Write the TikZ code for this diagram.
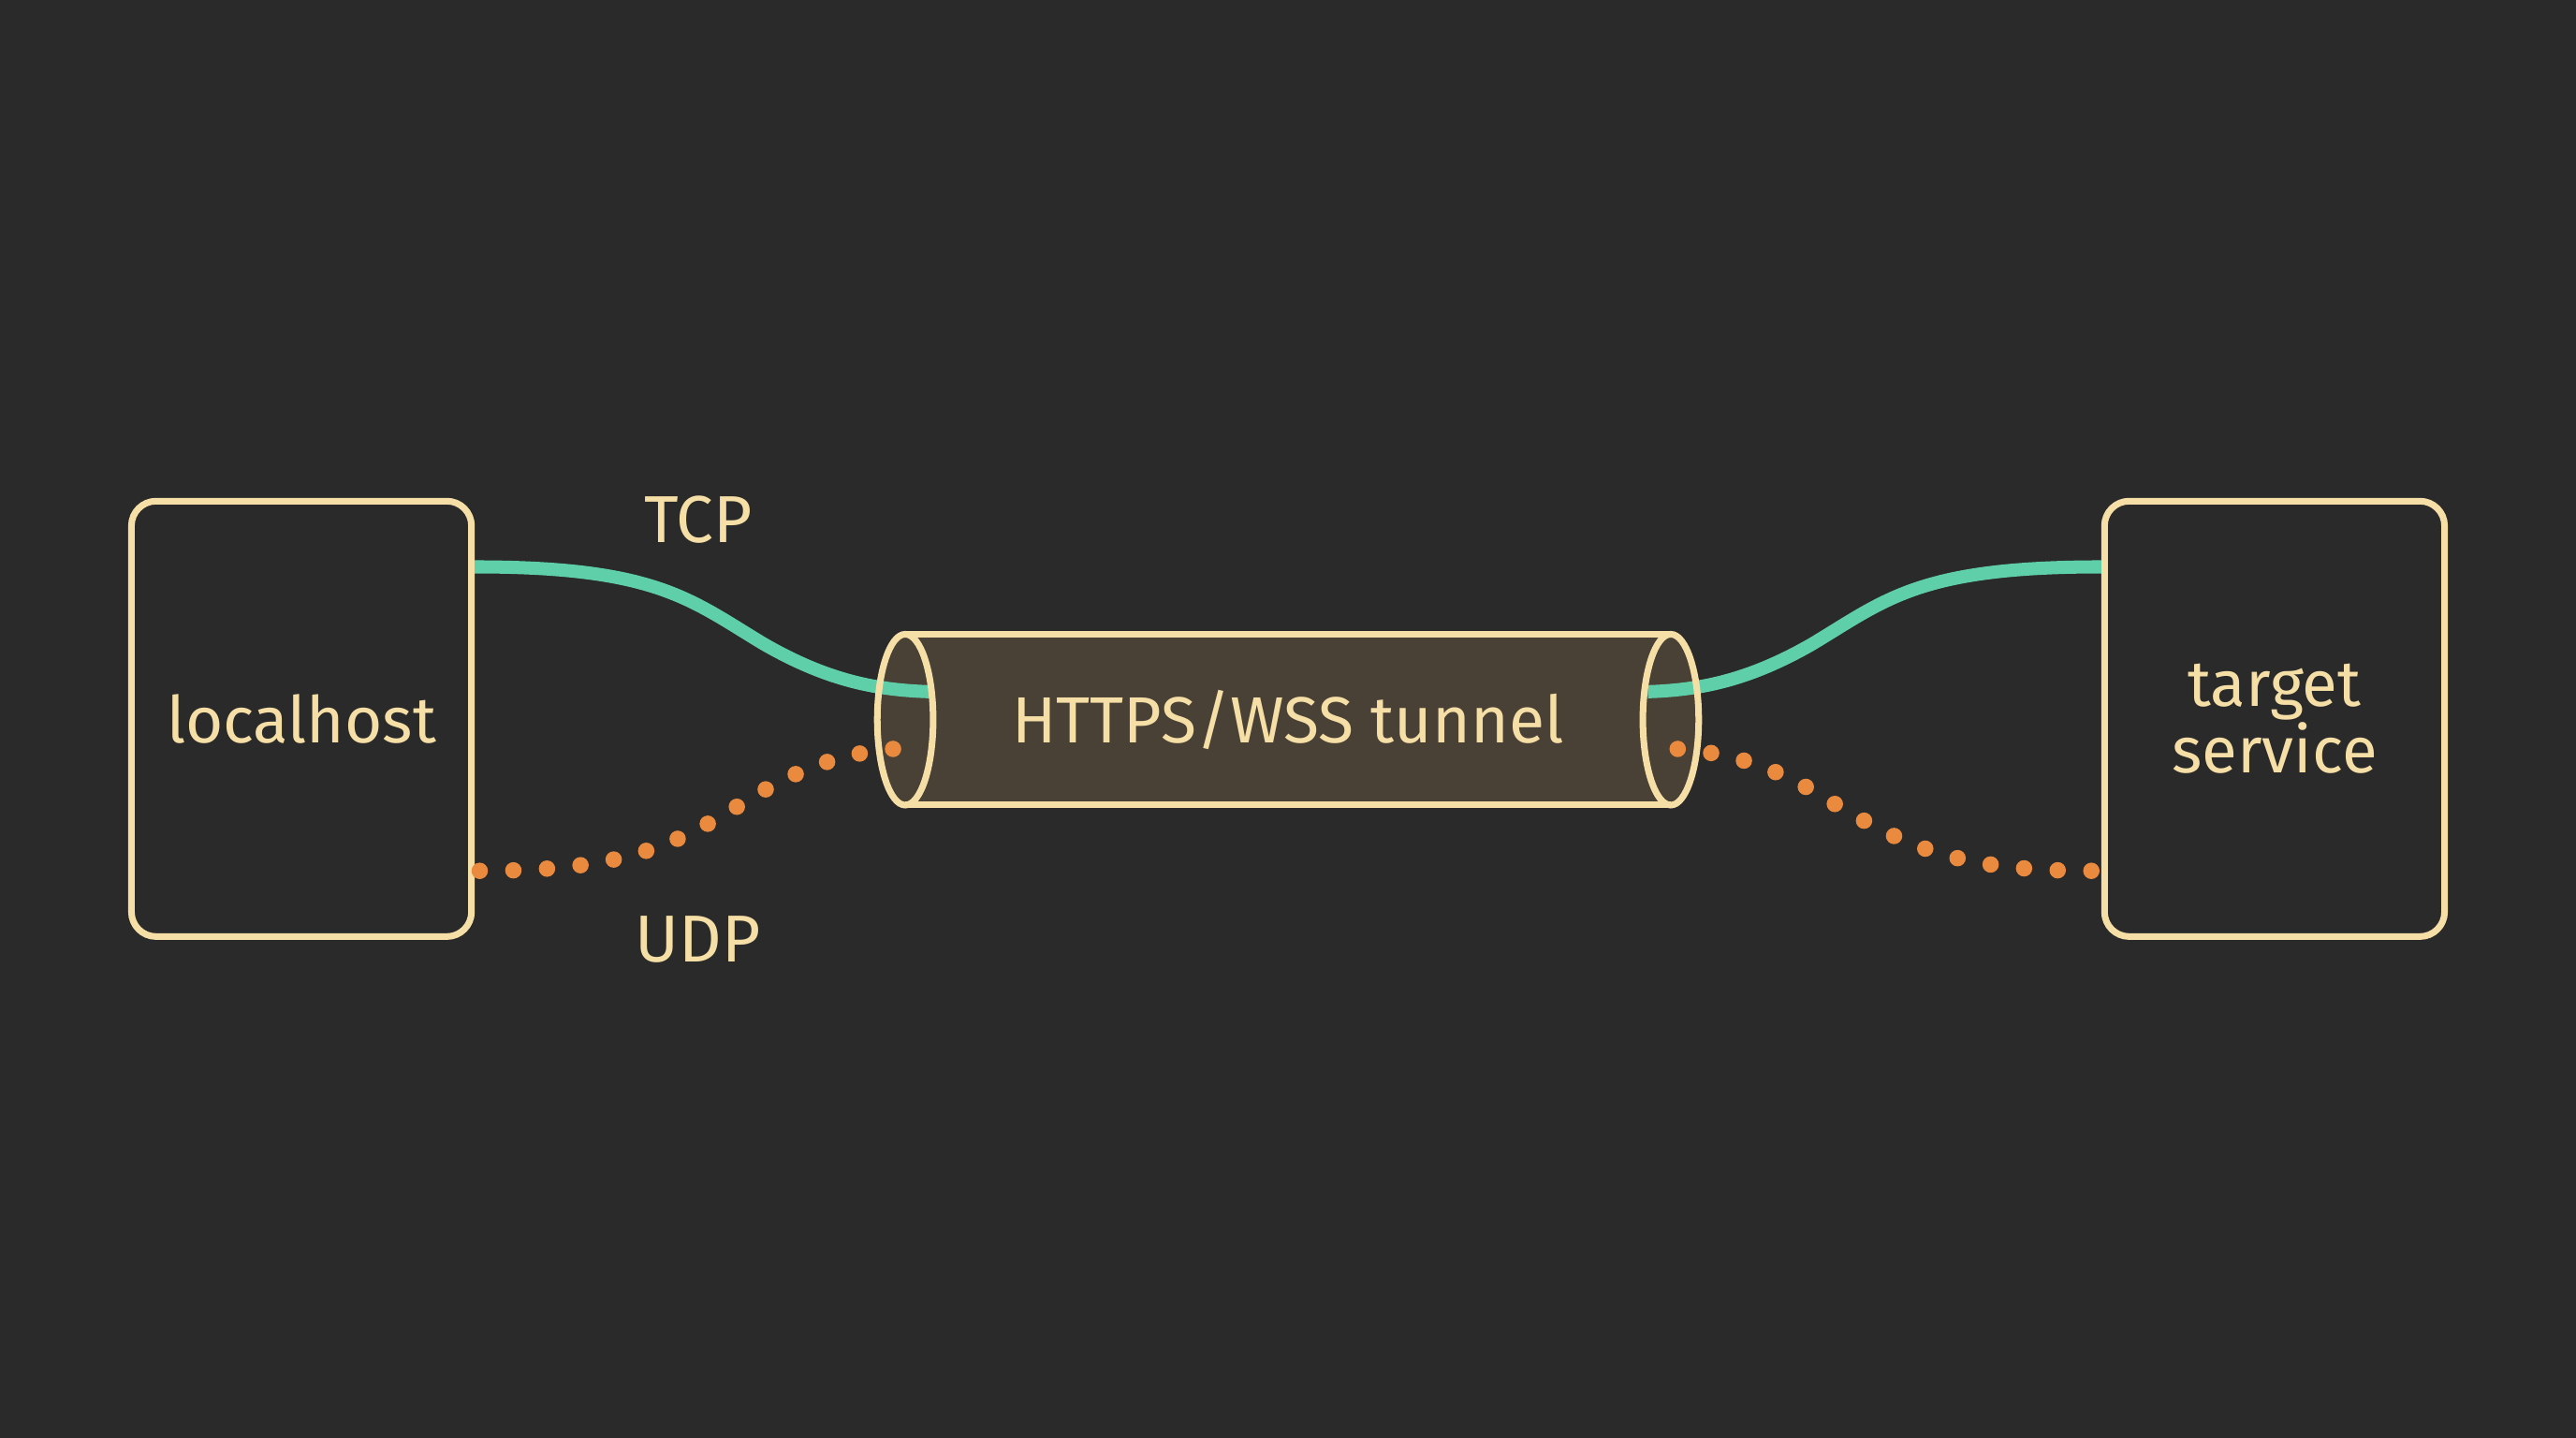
\documentclass[tikz,border=0pt]{standalone}
\usepackage{fontspec}
\setmainfont{Fira Sans}
\usetikzlibrary{calc}
\definecolor{bg}{HTML}{2A2A2A}
\definecolor{cream}{HTML}{F6DFA6}
\definecolor{tcpc}{HTML}{5ECFA8}
\definecolor{udpc}{HTML}{EA8A3E}
\definecolor{tun}{HTML}{4A4136}
\tikzset{
 box/.style={draw=cream,line width=0.4mm,rounded corners=1.5mm,minimum width=20.7mm,minimum height=26.5mm,text=cream,font=\fontsize{11.2}{13}\selectfont,align=center,inner sep=0pt},
 tcp/.style={draw=tcpc,line width=0.8mm},
 udp/.style={draw=udpc,line width=1.0mm,line cap=round,dash pattern=on 0pt off 2.05mm},
 lbl/.style={text=cream,font=\fontsize{11.5}{14}\selectfont},
 cyl/.style={draw=cream,line width=0.4mm}
}
\begin{document}
\begin{tikzpicture}[x=0.1mm,y=-0.1mm]
\fill[bg] (0,0) rectangle (1568,875);
\useasboundingbox (0,0) rectangle (1568,875);
\node[box] (lh) at (183.5,437.5) {localhost};
\node[box] (ts) at (1384.5,437.5) {target\\[-0.5mm]service};
\coordinate (tl) at (551,438);
\coordinate (tr) at (1017,438);
\fill[tun] (551,386) rectangle (1017,490);
\fill[tun] (tl) ellipse [x radius=17, y radius=52];
\fill[tun] (tr) ellipse [x radius=17, y radius=52];
\coordinate (tcpA) at ($(lh.east)+(0,-92.5)$);
\coordinate (udpA) at ($(lh.east)+(3,92.5)$);
\coordinate (tcpB) at ($(ts.west)+(0,-92.5)$);
\coordinate (udpB) at ($(ts.west)+(-6,92.5)$);
\draw[tcp] (tcpA) .. controls (400,345) and (420,365) .. (465,392) .. controls (505,415) and (535,420) .. (566,421);
\draw[tcp] (tcpB) .. controls (1168,345) and (1148,365) .. (1103,392) .. controls (1063,415) and (1033,420) .. (1003,421);
\draw[udp] (udpA) .. controls (380,530) and (410,515) .. (455,487) .. controls (495,462) and (525,456) .. (558,455);
\draw[udp] (udpB) .. controls (1190,530) and (1160,515) .. (1113,487) .. controls (1073,462) and (1043,456) .. (1005,455);
\draw[cyl] (551,386) -- (1017,386) (551,490) -- (1017,490);
\draw[cyl] (tl) ellipse [x radius=17, y radius=52];
\draw[cyl] (tr) ellipse [x radius=17, y radius=52];
\node[lbl,font=\fontsize{11.3}{14}\selectfont] (tt) at (784,438) {HTTPS/WSS tunnel};
\node[lbl] (tcpl) at (425,316) {TCP};
\node[lbl] (udpl) at (425,572) {UDP};
\end{tikzpicture}
\end{document}
